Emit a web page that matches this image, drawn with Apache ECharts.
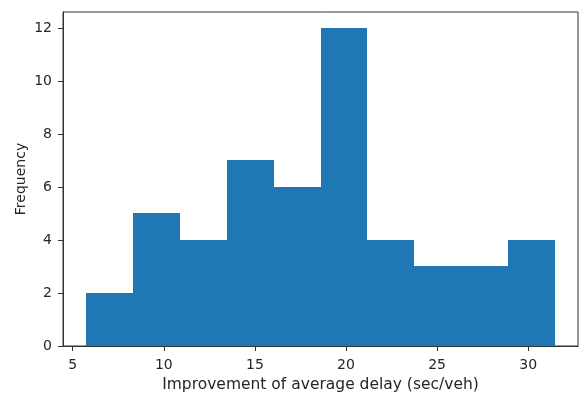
<!DOCTYPE html>
<html>
<head>
<meta charset="utf-8">
<script src="https://cdn.jsdelivr.net/npm/echarts@6/dist/echarts.min.js"></script>
<style>
  html, body { margin: 0; padding: 0; background: #fff; }
  #chart { width: 583px; height: 395px; }
</style>
</head>
<body>
<div id="chart"></div>
<script>
// Histogram bin edges (sec/veh) and counts per bin
const binEdges = [5.75, 8.32, 10.89, 13.46, 16.03, 18.60, 21.17, 23.74, 26.31, 28.88, 31.45];
const counts = [2, 5, 4, 7, 6, 12, 4, 3, 3, 4];
const xTicks = [5, 10, 15, 20, 25, 30];
const yTicks = [0, 2, 4, 6, 8, 10, 12];

const bins = counts.map((c, i) => [binEdges[i], binEdges[i + 1], c]);

// 5% padding around the data range, like a default matplotlib axes
const span = binEdges[binEdges.length - 1] - binEdges[0];
const xMin = binEdges[0] - span * 0.05;
const xMax = binEdges[binEdges.length - 1] + span * 0.05;
const yMax = Math.max(...counts) * 1.05;

const textColor = '#262626';
const font = 'DejaVu Sans';

const chart = echarts.init(document.getElementById('chart'), null, { renderer: 'canvas' });
chart.setOption({
  animation: false,
  backgroundColor: '#fff',
  grid: {
    left: 63, right: 5, top: 12, bottom: 49,
    outerBoundsMode: 'none',
    containLabel: false,
    show: true, borderColor: '#333', borderWidth: 1, backgroundColor: 'transparent'
  },
  xAxis: {
    type: 'value',
    min: xMin, max: xMax,
    name: 'Improvement of average delay (sec/veh)',
    nameLocation: 'middle',
    nameGap: 31,
    nameMoveOverlap: false,
    nameTextStyle: { fontFamily: font, fontSize: 15.5, color: textColor },
    axisLine: { show: true, lineStyle: { color: '#333', width: 1 } },
    axisTick: { show: true, inside: false, length: 5, customValues: xTicks, lineStyle: { color: '#333' } },
    axisLabel: { customValues: xTicks, fontFamily: font, fontSize: 14, color: textColor, margin: 12 },
    splitLine: { show: false }
  },
  yAxis: {
    type: 'value',
    min: 0, max: yMax,
    name: 'Frequency',
    nameLocation: 'middle',
    nameGap: 35,
    nameMoveOverlap: false,
    nameRotate: 90,
    nameTextStyle: { fontFamily: font, fontSize: 14, color: textColor },
    axisLine: { show: true, lineStyle: { color: '#333', width: 1 } },
    axisTick: { show: true, inside: false, length: 5, customValues: yTicks, lineStyle: { color: '#333' } },
    axisLabel: { customValues: yTicks, fontFamily: font, fontSize: 14, color: textColor, margin: 11 },
    splitLine: { show: false }
  },
  series: [{
    type: 'custom',
    data: bins,
    encode: { x: [0, 1], y: 2 },
    renderItem: function (params, api) {
      // snap edges to whole pixels so neighbouring bars meet without seams
      const p0 = api.coord([api.value(0), api.value(2)]);
      const p1 = api.coord([api.value(1), 0]);
      const x0 = Math.round(p0[0]), x1 = Math.round(p1[0]);
      const y0 = Math.round(p0[1]), y1 = Math.round(p1[1]);
      return {
        type: 'rect',
        shape: { x: x0, y: y0, width: x1 - x0, height: y1 - y0 },
        style: { fill: '#1f77b4' }
      };
    }
  }]
});
</script>
</body>
</html>
